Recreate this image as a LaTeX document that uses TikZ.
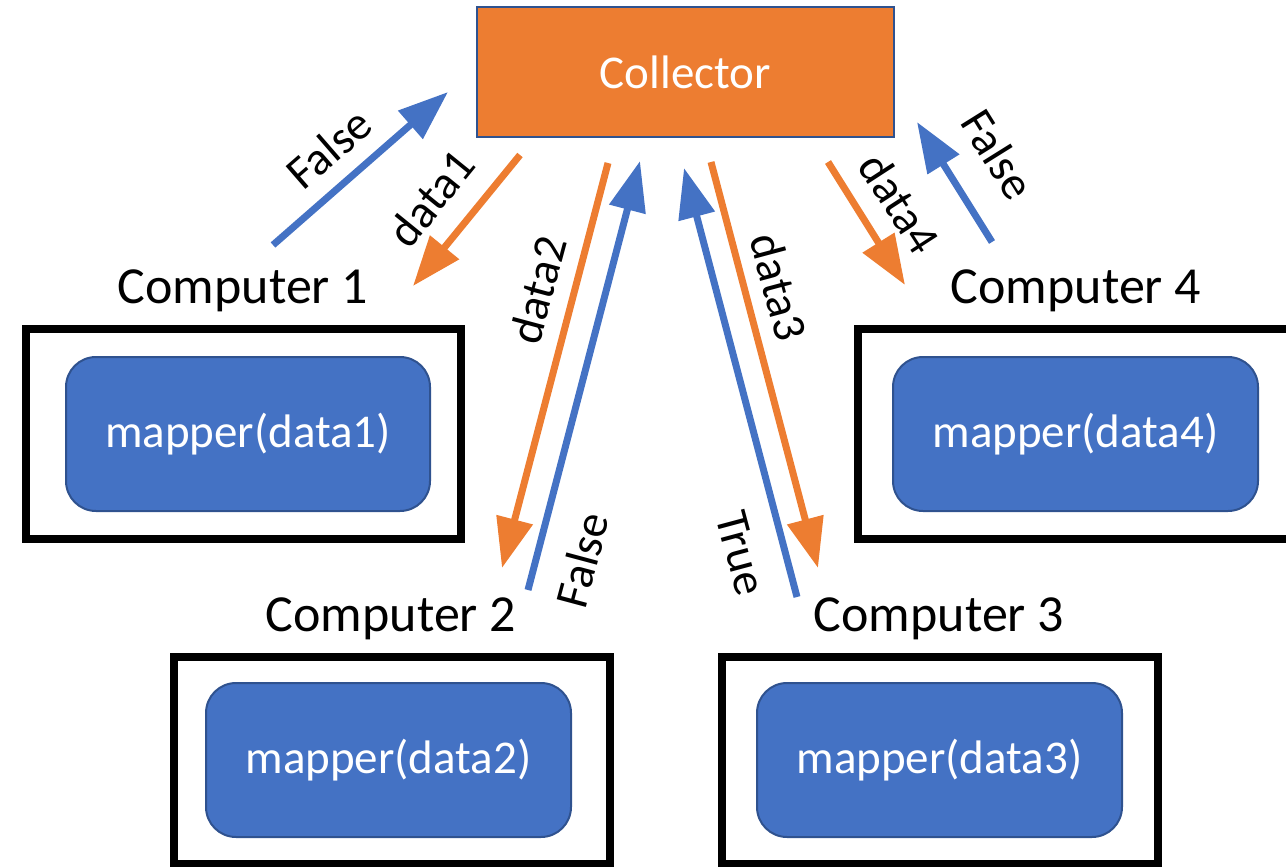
\documentclass[tikz,border=0pt]{standalone}
\usepackage{fontspec}
\setmainfont{Carlito}
\usetikzlibrary{arrows.meta}
\definecolor{accOrange}{HTML}{ED7D31}
\definecolor{accBlue}{HTML}{4472C4}
\definecolor{edgeBlue}{HTML}{2F528F}
\begin{document}
\begin{tikzpicture}[x=1pt,y=-1pt,
  collector/.style={draw=edgeBlue, line width=2.5pt, fill=accOrange, inner sep=0pt,
    minimum width=417pt, minimum height=130pt, text=white,
    font=\fontsize{47}{56}\selectfont},
  frame/.style={draw=black, line width=8pt, inner sep=0pt},
  mapbox/.style={draw=edgeBlue, line width=2pt, fill=accBlue, rounded corners=30pt,
    inner sep=0pt, minimum width=364pt, minimum height=154pt, text=white,
    font=\fontsize{47}{56}\selectfont},
  pclabel/.style={anchor=base, inner sep=0pt, font=\fontsize{52}{60}\selectfont},
  msg/.style={inner sep=0pt, font=\fontsize{47}{56}\selectfont},
  sendarrow/.style={draw=accOrange, line width=7pt, -{Triangle[length=50pt,width=36pt]}},
  replyarrow/.style={draw=accBlue, line width=7pt, -{Triangle[length=50pt,width=36pt]}}]
\clip (0,0) rectangle (1286,867);

% central collector
\node[collector] (coll) at (685.5,72) {Collector};

% computers with their mapper tasks
\node[frame, minimum width=435pt, minimum height=210pt] (pc1) at (243.5,434) {};
\node[frame, minimum width=440pt, minimum height=210pt] (pc4) at (1078,434) {};
\node[frame, minimum width=436pt, minimum height=207pt] (pc2) at (392,760.5) {};
\node[frame, minimum width=436pt, minimum height=207pt] (pc3) at (940,760.5) {};

\node[mapbox] (m1) at (248,434) {mapper(data1)};
\node[mapbox, minimum width=365pt] (m4) at (1075.5,434) {mapper(data4)};
\node[mapbox, minimum width=365pt] (m2) at (388.5,760) {mapper(data2)};
\node[mapbox, minimum width=365pt] (m3) at (939.5,760) {mapper(data3)};

\node[pclabel] (l1) at (243,303) {Computer 1};
\node[pclabel] (l4) at (1076,303) {Computer 4};
\node[pclabel] (l2) at (391,631) {Computer 2};
\node[pclabel] (l3) at (939,631) {Computer 3};

% arrow end points
\coordinate (r1s) at (273,245);  \coordinate (r1e) at (448,92);
\coordinate (s1s) at (520,155);  \coordinate (s1e) at (413,286);
\coordinate (s2s) at (608,163);  \coordinate (s2e) at (502,568);
\coordinate (r2s) at (528,590);  \coordinate (r2e) at (640,161);
\coordinate (r3s) at (797,597);  \coordinate (r3e) at (684,168);
\coordinate (s3s) at (711,162);  \coordinate (s3e) at (818,568);
\coordinate (s4s) at (828,162);  \coordinate (s4e) at (905,285);
\coordinate (r4s) at (992,242);  \coordinate (r4e) at (917,122);

% data sent out, results sent back
\draw[replyarrow] (r1s) -- (r1e);
\draw[sendarrow] (s1s) -- (s1e);
\draw[sendarrow] (s2s) -- (s2e);
\draw[replyarrow] (r2s) -- (r2e);
\draw[replyarrow] (r3s) -- (r3e);
\draw[sendarrow] (s3s) -- (s3e);
\draw[sendarrow] (s4s) -- (s4e);
\draw[replyarrow] (r4s) -- (r4e);

% arrow labels
\node[msg, rotate=41] (t1) at (329,148) {False};
\node[msg, rotate=51] (d1) at (431,198) {data1};
\node[msg, rotate=75] (d2) at (538,290) {data2};
\node[msg, rotate=75] (t2) at (582,560) {False};
\node[msg, rotate=-75] (d3) at (779,287) {data3};
\node[msg, rotate=-75] (t3) at (741,553) {True};
\node[msg, rotate=-57] (d4) at (900,203) {data4};
\node[msg, rotate=-58] (t4) at (998,154) {False};
\end{tikzpicture}
\end{document}
